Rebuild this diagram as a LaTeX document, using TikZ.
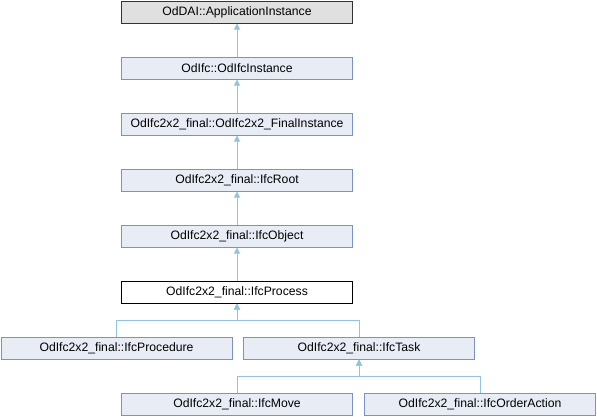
\documentclass[tikz,border=0pt]{standalone}
\usepackage{fontspec}
\setmainfont{Liberation Sans}
\usetikzlibrary{arrows.meta}
\definecolor{boxfill}{RGB}{232,236,245}
\definecolor{boxdraw}{RGB}{122,146,200}
\definecolor{edgecol}{RGB}{145,195,230}
\definecolor{topfill}{RGB}{224,224,224}
\tikzset{
  cls/.style={draw=boxdraw, fill=boxfill, line width=1pt, minimum width=231pt, minimum height=22pt, inner sep=0pt, font=\fontsize{12.2pt}{14pt}\selectfont},
  topcls/.style={cls, draw=black!80, fill=topfill},
  curcls/.style={cls, draw=black, fill=white},
  edge/.style={draw=edgecol, line width=1pt, -{Triangle[length=6pt,width=6pt]}}
}
\begin{document}
\begin{tikzpicture}[x=1pt,y=-1pt]
\useasboundingbox (0,0) rectangle (597,416);
\node[topcls] (app) at (237,12) {OdDAI::ApplicationInstance};
\node[cls] (inst) at (237,68) {OdIfc::OdIfcInstance};
\node[cls] (fin) at (237,124) {OdIfc2x2\_final::OdIfc2x2\_FinalInstance};
\node[cls] (root) at (237,180) {OdIfc2x2\_final::IfcRoot};
\node[cls] (obj) at (237,236) {OdIfc2x2\_final::IfcObject};
\node[curcls] (proc) at (237,292) {OdIfc2x2\_final::IfcProcess};
\node[cls] (procd) at (116.5,348) {OdIfc2x2\_final::IfcProcedure};
\node[cls] (task) at (359,348) {OdIfc2x2\_final::IfcTask};
\node[cls] (move) at (237,404) {OdIfc2x2\_final::IfcMove};
\node[cls] (order) at (480,404) {OdIfc2x2\_final::IfcOrderAction};
\coordinate (j1) at (237,320);
\coordinate (j2) at (359,376);
\draw[edge] (inst.north) -- (app.south);
\draw[edge] (fin.north) -- (inst.south);
\draw[edge] (root.north) -- (fin.south);
\draw[edge] (obj.north) -- (root.south);
\draw[edge] (proc.north) -- (obj.south);
\draw[edge] (procd.north) |- (j1) -- (proc.south);
\draw[edge] (task.north) |- (j1) -- (proc.south);
\draw[edge] (move.north) |- (j2) -- (task.south);
\draw[edge] (order.north) |- (j2) -- (task.south);
\end{tikzpicture}
\end{document}
